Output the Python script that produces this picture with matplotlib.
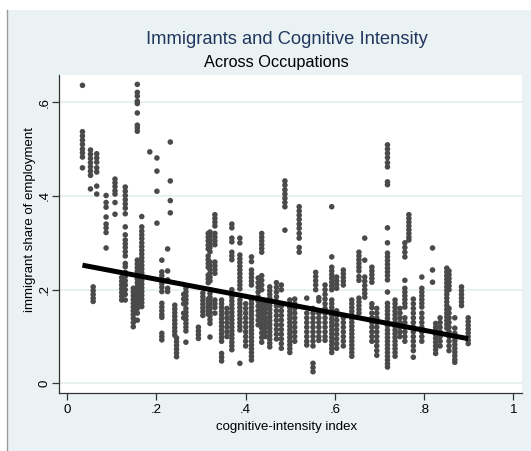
import matplotlib
matplotlib.use("Agg")
import matplotlib.pyplot as plt
from matplotlib.patches import Rectangle
from matplotlib.lines import Line2D
import numpy as np

plt.rcParams['font.family'] = ['Liberation Sans', 'DejaVu Sans']

# Occupation columns: cognitive-intensity index and the immigrant shares observed for it
col_index = [
    0.034, 0.052, 0.058, 0.066, 0.087, 0.107, 0.122, 0.130, 0.148, 0.157,
    0.167, 0.185, 0.201, 0.212, 0.225, 0.231, 0.241, 0.245, 0.261, 0.266,
    0.294, 0.304, 0.316, 0.320, 0.331, 0.346, 0.358, 0.369, 0.387, 0.400,
    0.413, 0.428, 0.436, 0.444, 0.454, 0.469, 0.480, 0.488, 0.499, 0.510,
    0.520, 0.537, 0.551, 0.557, 0.564, 0.578, 0.593, 0.604, 0.619, 0.638,
    0.654, 0.667, 0.683, 0.694, 0.718, 0.735, 0.746, 0.757, 0.766, 0.776,
    0.795, 0.819, 0.826, 0.836, 0.851, 0.856, 0.869, 0.884, 0.899,
]

col_shares = [
    [0.636, 0.537, 0.528, 0.519, 0.510, 0.500, 0.492, 0.483, 0.460],
    [0.498, 0.489, 0.480, 0.471, 0.462, 0.453, 0.444, 0.415],
    [0.206, 0.198, 0.190, 0.182, 0.175],
    [0.490, 0.481, 0.472, 0.460, 0.451, 0.421, 0.404],
    [0.401, 0.386, 0.376, 0.355, 0.340, 0.332, 0.322, 0.289],
    [0.436, 0.428, 0.420, 0.411, 0.404, 0.386, 0.361],
    [0.226, 0.218, 0.210, 0.202, 0.194, 0.186, 0.178],
    [0.419, 0.410, 0.401, 0.392, 0.383, 0.374, 0.362, 0.334, 0.317, 0.306,
     0.298, 0.290, 0.281, 0.272, 0.256, 0.249, 0.237, 0.228, 0.219, 0.210,
     0.200, 0.190, 0.178],
    [0.203, 0.195, 0.187, 0.179, 0.171, 0.163, 0.155, 0.147, 0.139, 0.130, 0.121],
    [0.638, 0.621, 0.613, 0.602, 0.597, 0.577, 0.551, 0.545, 0.538, 0.263,
     0.255, 0.247, 0.239, 0.231, 0.223, 0.215, 0.207, 0.199, 0.191, 0.183,
     0.175, 0.167, 0.160, 0.150, 0.135],
    [0.356, 0.334, 0.325, 0.317, 0.309, 0.300, 0.292, 0.284, 0.276, 0.268,
     0.260, 0.252, 0.244, 0.236, 0.228, 0.220, 0.212, 0.204, 0.196, 0.188,
     0.180, 0.172, 0.164],
    [0.494],
    [0.481, 0.453, 0.410, 0.342],
    [0.263, 0.238, 0.230, 0.222, 0.213, 0.205, 0.196, 0.171, 0.163, 0.155,
     0.147, 0.141, 0.107, 0.100, 0.093],
    [0.287, 0.240, 0.221, 0.203, 0.196],
    [0.515, 0.432, 0.390, 0.364],
    [0.167, 0.159, 0.151, 0.143, 0.135, 0.127, 0.119, 0.111, 0.103],
    [0.097, 0.089, 0.081, 0.073, 0.065, 0.057],
    [0.190, 0.180, 0.170, 0.150, 0.140],
    [0.203, 0.195, 0.187, 0.179, 0.171, 0.160, 0.152, 0.144, 0.136, 0.128,
     0.120, 0.112, 0.088],
    [0.120, 0.112, 0.104, 0.096],
    [0.193, 0.185, 0.177, 0.169, 0.161, 0.153, 0.145],
    [0.320, 0.312, 0.304, 0.295, 0.287, 0.272, 0.264, 0.256, 0.248, 0.231,
     0.223, 0.215, 0.180, 0.172, 0.164, 0.156, 0.148],
    [0.323, 0.315, 0.306, 0.298, 0.290, 0.281, 0.259, 0.251, 0.243, 0.235,
     0.227, 0.219, 0.200, 0.192, 0.184, 0.176, 0.168, 0.160, 0.152, 0.144,
     0.136, 0.128, 0.099],
    [0.360, 0.352, 0.344, 0.336, 0.320, 0.312, 0.304, 0.296, 0.259, 0.251,
     0.243, 0.235, 0.178, 0.170, 0.162, 0.150],
    [0.178, 0.170, 0.162, 0.154, 0.146, 0.138, 0.130, 0.122, 0.114, 0.106,
     0.098, 0.090, 0.064, 0.056, 0.048],
    [0.160, 0.150, 0.140, 0.130, 0.120, 0.110, 0.100],
    [0.340, 0.332, 0.310, 0.302, 0.280, 0.272, 0.264, 0.200, 0.192, 0.184,
     0.176, 0.168, 0.160, 0.152, 0.144, 0.136, 0.128, 0.120, 0.112, 0.104,
     0.096, 0.088, 0.080, 0.072],
    [0.310, 0.300, 0.274, 0.266, 0.258, 0.250, 0.242, 0.234, 0.226, 0.218,
     0.210, 0.202, 0.178, 0.170, 0.162, 0.154, 0.146, 0.138, 0.130, 0.122,
     0.114, 0.043],
    [0.170, 0.160, 0.150, 0.140, 0.130, 0.120, 0.110, 0.100, 0.090, 0.080],
    [0.270, 0.260, 0.242, 0.234, 0.226, 0.218, 0.210, 0.178, 0.170, 0.162,
     0.154, 0.146, 0.138, 0.130, 0.122, 0.114, 0.106, 0.098, 0.090, 0.082,
     0.074, 0.066, 0.058, 0.050],
    [0.225, 0.215, 0.205, 0.195, 0.185, 0.175, 0.165, 0.155, 0.145, 0.135, 0.125],
    [0.320, 0.312, 0.304, 0.296, 0.288, 0.280, 0.230, 0.220, 0.210, 0.200,
     0.178, 0.168, 0.158, 0.148, 0.138, 0.128, 0.118, 0.108, 0.098, 0.088],
    [0.170, 0.160, 0.150, 0.140, 0.130, 0.120, 0.110, 0.100],
    [0.206, 0.198, 0.190, 0.182, 0.174, 0.166, 0.158, 0.150, 0.142, 0.134,
     0.126, 0.118, 0.110, 0.102, 0.094, 0.086, 0.078],
    [0.215, 0.205, 0.195, 0.185, 0.175, 0.165, 0.155, 0.145, 0.135, 0.125,
     0.115, 0.105, 0.095],
    [0.210, 0.200, 0.165, 0.155, 0.145, 0.135, 0.125, 0.115, 0.105, 0.095,
     0.085, 0.075],
    [0.432, 0.423, 0.413, 0.404, 0.395, 0.386, 0.377, 0.327],
    [0.178, 0.170, 0.162, 0.154, 0.146, 0.138, 0.130, 0.122, 0.114, 0.106,
     0.098, 0.090, 0.082, 0.074, 0.066],
    [0.180, 0.170, 0.160, 0.150, 0.140, 0.130, 0.120, 0.110, 0.100, 0.090],
    [0.377, 0.368, 0.359, 0.350, 0.340, 0.331, 0.320, 0.310, 0.290, 0.280],
    [0.182, 0.150, 0.140, 0.130, 0.120, 0.110, 0.100, 0.090, 0.082],
    [0.160, 0.150, 0.140, 0.130, 0.120, 0.110, 0.100, 0.090, 0.080, 0.043,
     0.034, 0.025],
    [0.237, 0.228, 0.219, 0.210, 0.200],
    [0.183, 0.176, 0.150, 0.140, 0.130, 0.120, 0.110, 0.100, 0.092],
    [0.210, 0.200, 0.190, 0.180, 0.170, 0.160, 0.150, 0.140, 0.130, 0.120,
     0.110, 0.100, 0.092],
    [0.377, 0.270, 0.248, 0.240, 0.232, 0.224, 0.216, 0.208, 0.200, 0.178,
     0.170, 0.162, 0.154, 0.146, 0.138, 0.130, 0.122, 0.114, 0.106, 0.098,
     0.090, 0.082, 0.074, 0.066],
    [0.227, 0.219, 0.211, 0.203, 0.155, 0.145, 0.135, 0.125, 0.115, 0.105,
     0.095, 0.085, 0.075],
    [0.242, 0.234, 0.226, 0.218, 0.210, 0.140, 0.130, 0.120, 0.110, 0.100,
     0.090, 0.080],
    [0.178, 0.170, 0.162, 0.154, 0.146, 0.138, 0.130, 0.122, 0.114, 0.106,
     0.098, 0.090, 0.082, 0.074, 0.066, 0.058],
    [0.280, 0.272, 0.264, 0.256, 0.248, 0.240, 0.228, 0.220, 0.182, 0.174,
     0.166, 0.158, 0.150],
    [0.310, 0.263, 0.227, 0.218, 0.209, 0.200, 0.192, 0.184],
    [0.248, 0.240, 0.232, 0.224, 0.216, 0.170, 0.162, 0.150, 0.140, 0.130,
     0.120, 0.110, 0.100, 0.090],
    [0.160, 0.150, 0.140, 0.130, 0.120, 0.110, 0.100, 0.090, 0.080, 0.070, 0.060],
    [0.509, 0.500, 0.491, 0.482, 0.471, 0.462, 0.430, 0.424, 0.332, 0.300,
     0.278, 0.270, 0.262, 0.254, 0.246, 0.238, 0.230, 0.221, 0.195, 0.171,
     0.163, 0.155, 0.147, 0.139, 0.131, 0.123, 0.114, 0.106, 0.098, 0.090,
     0.082, 0.074, 0.066, 0.058, 0.050, 0.042, 0.035],
    [0.178, 0.170, 0.162, 0.154, 0.146, 0.138, 0.130, 0.122, 0.114, 0.106,
     0.098, 0.090, 0.082, 0.074, 0.066, 0.058],
    [0.160, 0.150, 0.140, 0.130, 0.120, 0.110, 0.100],
    [0.300, 0.290, 0.280, 0.270, 0.220, 0.203, 0.195, 0.187, 0.179, 0.171,
     0.163, 0.140, 0.130, 0.120, 0.110, 0.100, 0.090],
    [0.360, 0.352, 0.344, 0.336, 0.328, 0.320, 0.312, 0.306],
    [0.180, 0.170, 0.160, 0.150, 0.140, 0.130, 0.120, 0.110, 0.100, 0.090,
     0.080, 0.070, 0.056],
    [0.227, 0.203, 0.195, 0.187, 0.179, 0.171, 0.163, 0.150, 0.140, 0.130,
     0.120, 0.110, 0.100, 0.090],
    [0.289, 0.242, 0.216],
    [0.128, 0.120, 0.112, 0.104, 0.096, 0.088, 0.080, 0.072, 0.064],
    [0.140, 0.130, 0.120, 0.110, 0.100, 0.090, 0.080],
    [0.246, 0.238, 0.230, 0.222, 0.214, 0.206, 0.198, 0.190, 0.182, 0.174,
     0.166, 0.158, 0.150, 0.142, 0.134, 0.126, 0.118],
    [0.240, 0.232, 0.224, 0.216, 0.208, 0.200, 0.160, 0.150, 0.140, 0.130,
     0.120, 0.110, 0.100, 0.090, 0.080, 0.070],
    [0.140, 0.118, 0.107, 0.099, 0.091, 0.083, 0.075, 0.067, 0.059, 0.051, 0.045],
    [0.206, 0.198, 0.190, 0.182, 0.174, 0.166],
    [0.140, 0.132, 0.124, 0.116, 0.108, 0.100, 0.092, 0.085],
]

# Fitted linear relationship (share on index)
fit_intercept = 0.2585
fit_slope = -0.1813

x_ticks = [0, 0.2, 0.4, 0.6, 0.8, 1.0]
x_tick_labels = ["0", ".2", ".4", ".6", ".8", "1"]
y_ticks = [0, 0.2, 0.4, 0.6]
y_tick_labels = ["0", ".2", ".4", ".6"]

W, H = 531, 451
fig = plt.figure(figsize=(W / 100, H / 100), dpi=100, facecolor="white")

# Graph region background with its left border
panel_color = "#EAF2F3"
fig.patches.append(Rectangle((7 / W, 0), 1 - 7 / W, 1 - 10 / H,
                             transform=fig.transFigure, facecolor=panel_color,
                             edgecolor="none", zorder=-10))
fig.lines.append(Line2D([7 / W, 7 / W], [0, 1 - 10 / H], transform=fig.transFigure,
                        color="#9a9a9a", lw=1.0, zorder=-9))

ax = fig.add_axes([59 / W, 1 - 393.3 / H, (521.7 - 59) / W, (393.3 - 75) / H])
ax.set_facecolor("white")

xs = []
ys = []
for xv, shares in zip(col_index, col_shares):
    xs.extend([xv] * len(shares))
    ys.extend(shares)
xs = np.array(xs)
ys = np.array(ys)

ax.scatter(xs, ys, s=16, color="#4a4a4a", edgecolors="none", zorder=3)

fx = np.array([xs.min(), xs.max()])
ax.plot(fx, fit_intercept + fit_slope * fx, color="black", lw=3.6,
        solid_capstyle="butt", zorder=4)

ax.set_xlim(-0.0186, 1.019)
ax.set_ylim(-0.021, 0.658)

ax.set_xticks(x_ticks)
ax.set_xticklabels(x_tick_labels)
ax.set_yticks(y_ticks)
ax.set_yticklabels(y_tick_labels, rotation=90, va="center")

ax.grid(axis="y", color="#E4EDEF", lw=1.2, zorder=0)
ax.set_axisbelow(True)

for side in ("top", "right"):
    ax.spines[side].set_visible(False)
for side in ("left", "bottom"):
    ax.spines[side].set_color("#333333")
    ax.spines[side].set_linewidth(0.9)

ax.tick_params(axis="both", direction="out", length=5, width=0.9, color="#333333",
               labelsize=9.5, labelcolor="black")
ax.tick_params(axis="x", pad=3)
ax.tick_params(axis="y", pad=1)

ax.set_xlabel("cognitive-intensity index", fontsize=9.5)
ax.xaxis.set_label_coords((287 - 59) / (521.7 - 59), -(427 - 393.3) / (393.3 - 75))
ax.xaxis.label.set_va("center")
ax.set_ylabel("immigrant share of employment", fontsize=9.5)
ax.yaxis.set_label_coords((30 - 59) / (521.7 - 59), (393.3 - 219) / (393.3 - 75))
ax.yaxis.label.set_va("center")

fig.text(287 / W, 1 - 40 / H, "Immigrants and Cognitive Intensity",
         ha="center", va="center", fontsize=13.2, color="#22375E")
fig.text(276 / W, 1 - 62 / H, "Across Occupations",
         ha="center", va="center", fontsize=11.7, color="black")

fig.savefig("out.png", dpi=100, facecolor=fig.get_facecolor())
